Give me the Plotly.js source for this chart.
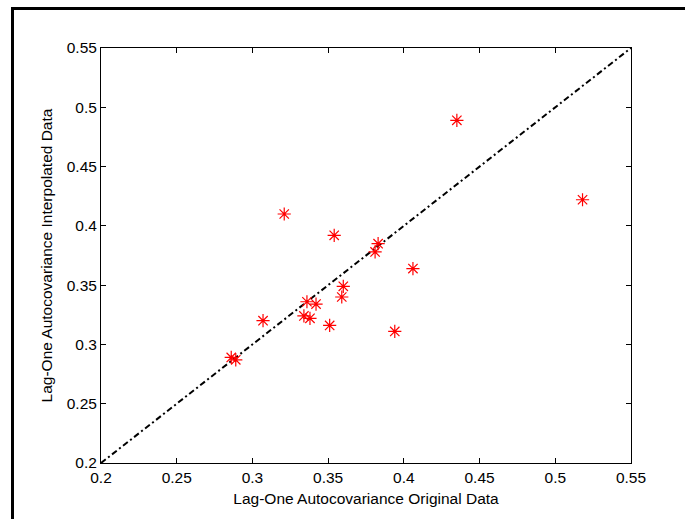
<!DOCTYPE html>
<html>
<head>
<meta charset="utf-8">
<script src="https://cdn.plot.ly/plotly-3.0.1.min.js"></script>
<style>
  html, body { margin: 0; padding: 0; background: #fff; overflow: hidden; }
  #frame { position: absolute; left: 11px; top: 7px; width: 760px; height: 600px;
           border: 3px solid #000; box-sizing: border-box; pointer-events: none; z-index: 5; }
  #chart { position: absolute; left: 0; top: 0; width: 685px; height: 519px; }
</style>
</head>
<body>
<div id="chart"></div>
<div id="frame"></div>
<script>
// Lag-one autocovariance: original data (x) vs interpolated data (y)
const originalData = [0.321, 0.354, 0.383, 0.381, 0.406, 0.360, 0.359, 0.336, 0.342,
                      0.334, 0.338, 0.351, 0.394, 0.307, 0.286, 0.289, 0.435, 0.518];
const interpolatedData = [0.410, 0.392, 0.385, 0.378, 0.364, 0.349, 0.340, 0.336, 0.334,
                          0.324, 0.322, 0.316, 0.311, 0.320, 0.289, 0.287, 0.489, 0.422];
// 1:1 reference line
const lineX = [0.2, 0.55];
const lineY = [0.2, 0.55];
const tickVals = [0.2, 0.25, 0.3, 0.35, 0.4, 0.45, 0.5, 0.55];
const tickText = ['0.2', '0.25', '0.3', '0.35', '0.4', '0.45', '0.5', '0.55'];

const font = { family: 'Liberation Sans, Arial, sans-serif', size: 15.5, color: '#000' };

const traces = [
  {
    x: lineX, y: lineY, type: 'scatter', mode: 'lines',
    line: { color: '#000', width: 2, dash: '6px,3px,2px,3px' },
    hoverinfo: 'skip'
  },
  {
    x: originalData, y: interpolatedData, type: 'scatter', mode: 'markers',
    marker: { symbol: 'asterisk-open', size: 11, color: '#ff0000',
              line: { color: '#ff0000', width: 1.2 } }
  }
];

const axisCommon = {
  range: [0.2, 0.55],
  tickvals: tickVals,
  ticktext: tickText,
  ticks: 'inside',
  ticklen: 5,
  tickwidth: 1,
  tickcolor: '#000',
  showline: true,
  linecolor: '#000',
  linewidth: 1,
  mirror: 'allticks',
  showgrid: false,
  zeroline: false,
  tickfont: font,
  automargin: false
};

const layout = {
  width: 685, height: 519,
  margin: { l: 101, r: 54, t: 47.5, b: 55.5 },
  paper_bgcolor: '#fff',
  plot_bgcolor: '#fff',
  showlegend: false,
  font: font,
  xaxis: Object.assign({}, axisCommon, {
    title: { text: 'Lag-One Autocovariance Original Data', font: font, standoff: 8 }
  }),
  yaxis: Object.assign({}, axisCommon, {
    title: { text: 'Lag-One Autocovariance Interpolated Data', font: font, standoff: 10 }
  })
};

Plotly.newPlot('chart', traces, layout, { displayModeBar: false, staticPlot: true });
</script>
</body>
</html>
